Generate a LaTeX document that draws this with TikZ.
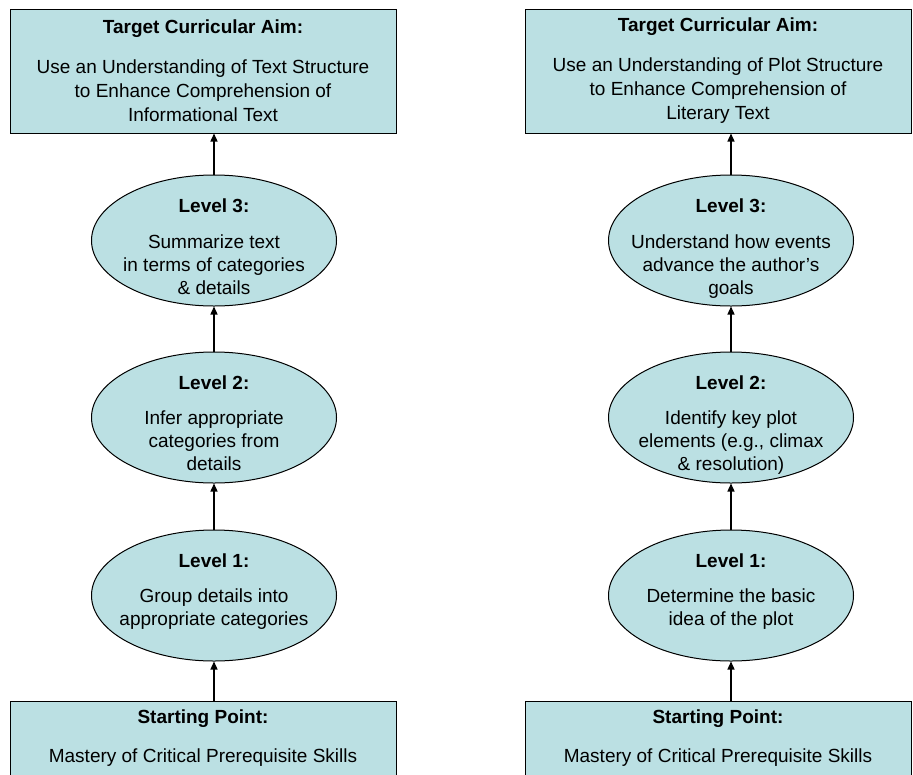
\documentclass[tikz,border=0pt]{standalone}
\usepackage{fontspec}
\setmainfont{Liberation Sans}
\usepackage{xcolor}
\definecolor{paleteal}{HTML}{BBE0E3}
\usetikzlibrary{arrows.meta,positioning,shapes.geometric}

\begin{document}
\begin{tikzpicture}[
  x=1pt,y=-1pt,
  every node/.style={font=\fontsize{19}{24}\selectfont,align=center},
  aimbox/.style={draw=black,line width=1pt,fill=paleteal,minimum width=386pt,minimum height=124pt,inner sep=0pt},
  startbox/.style={aimbox,minimum height=75pt},
  lvl/.style={ellipse,draw=black,line width=1pt,fill=paleteal,minimum width=245pt,minimum height=131pt,inner sep=0pt},
  lvltxt/.style={inner sep=0pt,font=\fontsize{19}{23}\selectfont},
  ar/.style={-{Triangle[length=8pt,width=7pt]},line width=1.3pt}
]
\useasboundingbox (0,0) rectangle (913,774);

% informational text
\node[aimbox] (aimL) at (203,71) {\textbf{Target Curricular Aim:}\\[16pt]Use an Understanding of Text Structure\\to Enhance Comprehension of\\Informational Text};
\node[lvl,below=41pt of aimL,xshift=11pt] (l3L) {};
\node[lvl,below=45pt of l3L] (l2L) {};
\node[lvl,below=46pt of l2L] (l1L) {};
\node[startbox,below=39pt of l1L,xshift=-11pt] (startL) {\textbf{Starting Point:}\\[15pt]Mastery of Critical Prerequisite Skills};
\node[lvltxt,below=24pt of l3L.north] (l3Lt) {\textbf{Level 3:}\\[13pt]Summarize text\\in terms of categories\\\& details};
\node[lvltxt,below=24pt of l2L.north] (l2Lt) {\textbf{Level 2:}\\[12pt]Infer appropriate\\categories from\\details};
\node[lvltxt,below=24pt of l1L.north] (l1Lt) {\textbf{Level 1:}\\[12pt]Group details into\\appropriate categories};

% literary text
\node[aimbox] (aimR) at (718,71) {\textbf{Target Curricular Aim:}\\[16pt]Use an Understanding of Plot Structure\\to Enhance Comprehension of\\Literary Text};
\node[lvl,below=41pt of aimR,xshift=13pt] (l3R) {};
\node[lvl,below=45pt of l3R] (l2R) {};
\node[lvl,below=46pt of l2R] (l1R) {};
\node[startbox,below=39pt of l1R,xshift=-13pt] (startR) {\textbf{Starting Point:}\\[15pt]Mastery of Critical Prerequisite Skills};
\node[lvltxt,below=24pt of l3R.north] (l3Rt) {\textbf{Level 3:}\\[13pt]Understand how events\\advance the author’s\\goals};
\node[lvltxt,below=24pt of l2R.north] (l2Rt) {\textbf{Level 2:}\\[12pt]Identify key plot\\elements (e.g., climax\\\& resolution)};
\node[lvltxt,below=24pt of l1R.north] (l1Rt) {\textbf{Level 1:}\\[12pt]Determine the basic\\idea of the plot};

% arrows
\draw[ar] (l3L) -- (l3L.north |- aimL.south);
\draw[ar] (l2L) -- (l3L);
\draw[ar] (l1L) -- (l2L);
\draw[ar] (l1L.south |- startL.north) -- (l1L);
\draw[ar] (l3R) -- (l3R.north |- aimR.south);
\draw[ar] (l2R) -- (l3R);
\draw[ar] (l1R) -- (l2R);
\draw[ar] (l1R.south |- startR.north) -- (l1R);
\end{tikzpicture}
\end{document}
